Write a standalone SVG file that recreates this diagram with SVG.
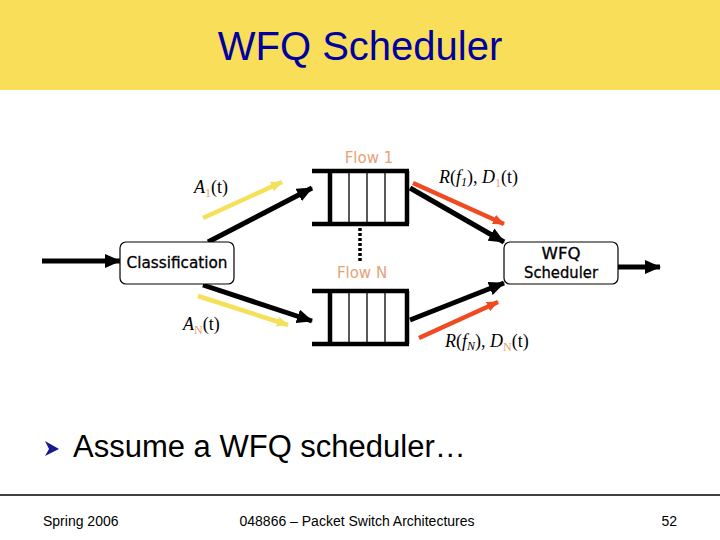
<svg xmlns="http://www.w3.org/2000/svg" width="720" height="540" viewBox="0 0 720 540">
<defs>
<style>
.box{fill:#fff;stroke:#000;stroke-width:1.2}
.boxt{font-family:"DejaVu Sans",sans-serif;font-size:15px;fill:#000;text-anchor:middle;stroke:#000;stroke-width:0.3}
.blk{stroke:#000;stroke-width:5;fill:none}
.yel{stroke:#F5E05A;stroke-width:4.5;fill:none}
.red{stroke:#EF4A22;stroke-width:4.5;fill:none}
.qbar{stroke:#000;stroke-width:4.5;fill:none}
.qthin{stroke:#000;stroke-width:1.3;fill:none}
.flow{font-family:"DejaVu Sans",sans-serif;font-size:15px;fill:#E6A277;text-anchor:middle}
.math{font-family:"Liberation Serif",serif;font-size:18px;fill:#000}
.sub{font-size:12px;fill:#E6A277}
.foot{font-family:"Liberation Sans",sans-serif;font-size:14px;fill:#000}
</style>
<marker id="hb" viewBox="0 0 16 14" refX="15" refY="7" markerWidth="16" markerHeight="14" markerUnits="userSpaceOnUse" orient="auto"><path d="M0,0 L16,7 L0,14 z" fill="#000"/></marker>
<marker id="hy" viewBox="0 0 12 10" refX="11" refY="5" markerWidth="12" markerHeight="10" markerUnits="userSpaceOnUse" orient="auto"><path d="M0,0 L12,5 L0,10 z" fill="#F5E05A"/></marker>
<marker id="hr" viewBox="0 0 12 10" refX="11" refY="5" markerWidth="12" markerHeight="10" markerUnits="userSpaceOnUse" orient="auto"><path d="M0,0 L12,5 L0,10 z" fill="#EF4A22"/></marker>
</defs>
<rect x="0" y="0" width="720" height="540" fill="#fff"/>
<g id="header">
<rect x="0" y="0" width="720" height="90" fill="#F9DE59"/>
<text x="360" y="60" font-family="Liberation Sans,sans-serif" font-size="40" fill="#0000A0" text-anchor="middle">WFQ Scheduler</text>
</g>
<g id="connectors">
<line class="blk" x1="42" y1="261" x2="120" y2="261" marker-end="url(#hb)"/>
<line class="blk" x1="208" y1="242" x2="312" y2="188" marker-end="url(#hb)"/>
<line class="blk" x1="203" y1="285" x2="312" y2="321" marker-end="url(#hb)"/>
<line class="yel" x1="203" y1="218" x2="282" y2="182" marker-end="url(#hy)"/>
<line class="yel" x1="198" y1="296" x2="288" y2="325" marker-end="url(#hy)"/>
<line class="blk" x1="410" y1="188" x2="504" y2="242" marker-end="url(#hb)"/>
<line class="blk" x1="410" y1="320" x2="504" y2="283" marker-end="url(#hb)"/>
<line class="red" x1="413" y1="183" x2="504" y2="224" marker-end="url(#hr)"/>
<line class="red" x1="419" y1="338" x2="498" y2="302" marker-end="url(#hr)"/>
<line class="blk" x1="618" y1="267" x2="660" y2="267" marker-end="url(#hb)"/>
<line x1="360" y1="228" x2="360" y2="262" stroke="#000" stroke-width="3.5" stroke-dasharray="3,2"/>
</g>
<g id="classification">
<rect class="box" x="120" y="242" width="114" height="42" rx="6"/>
<text class="boxt" x="177" y="268" textLength="101" lengthAdjust="spacingAndGlyphs">Classification</text>
</g>
<g id="queue1">
<line class="qbar" x1="312" y1="171" x2="409" y2="171"/>
<line class="qbar" x1="312" y1="224" x2="409" y2="224"/>
<line class="qbar" x1="330" y1="171" x2="330" y2="224"/>
<line class="qbar" x1="407" y1="171" x2="407" y2="224"/>
<line class="qthin" x1="349" y1="171" x2="349" y2="224"/>
<line class="qthin" x1="367" y1="171" x2="367" y2="224"/>
<line class="qthin" x1="385" y1="171" x2="385" y2="224"/>
<text class="flow" x="369" y="163">Flow 1</text>
</g>
<g id="queueN">
<line class="qbar" x1="312" y1="291" x2="409" y2="291"/>
<line class="qbar" x1="312" y1="344" x2="409" y2="344"/>
<line class="qbar" x1="330" y1="291" x2="330" y2="344"/>
<line class="qbar" x1="407" y1="291" x2="407" y2="344"/>
<line class="qthin" x1="349" y1="291" x2="349" y2="344"/>
<line class="qthin" x1="367" y1="291" x2="367" y2="344"/>
<line class="qthin" x1="385" y1="291" x2="385" y2="344"/>
<text class="flow" x="362" y="278">Flow N</text>
</g>
<g id="scheduler">
<rect class="box" x="504" y="242" width="114" height="42" rx="6"/>
<text class="boxt" x="561" y="259" textLength="39" lengthAdjust="spacingAndGlyphs">WFQ</text>
<text class="boxt" x="561" y="278" textLength="74" lengthAdjust="spacingAndGlyphs">Scheduler</text>
</g>
<g id="labels">
<text class="math" x="194" y="193"><tspan font-style="italic">A</tspan><tspan class="sub" dy="4">1</tspan><tspan dy="-4">(t)</tspan></text>
<text class="math" x="183" y="330"><tspan font-style="italic">A</tspan><tspan class="sub" dy="4">N</tspan><tspan dy="-4">(t)</tspan></text>
<text class="math" x="439" y="183"><tspan font-style="italic">R</tspan>(<tspan font-style="italic">f</tspan><tspan font-style="italic" font-size="12" dy="3">1</tspan><tspan dy="-3">), </tspan><tspan font-style="italic">D</tspan><tspan class="sub" dy="4">1</tspan><tspan dy="-4">(t)</tspan></text>
<text class="math" x="445" y="347"><tspan font-style="italic">R</tspan>(<tspan font-style="italic">f</tspan><tspan font-style="italic" font-size="12" dy="3">N</tspan><tspan dy="-3">), </tspan><tspan font-style="italic">D</tspan><tspan class="sub" dy="4">N</tspan><tspan dy="-4">(t)</tspan></text>
</g>
<g id="bullet">
<path d="M45,441 L59,449 L45,456 L49,449 z" fill="#1A1A8C"/>
<text x="73" y="457" font-family="Liberation Sans,sans-serif" font-size="31" fill="#000">Assume a WFQ scheduler…</text>
</g>
<g id="footer">
<line x1="0" y1="495" x2="720" y2="495" stroke="#000" stroke-width="1.3"/>
<text class="foot" x="43" y="526">Spring 2006</text>
<text class="foot" x="357" y="526" text-anchor="middle">048866 – Packet Switch Architectures</text>
<text class="foot" x="677" y="526" text-anchor="end">52</text>
</g>
</svg>
